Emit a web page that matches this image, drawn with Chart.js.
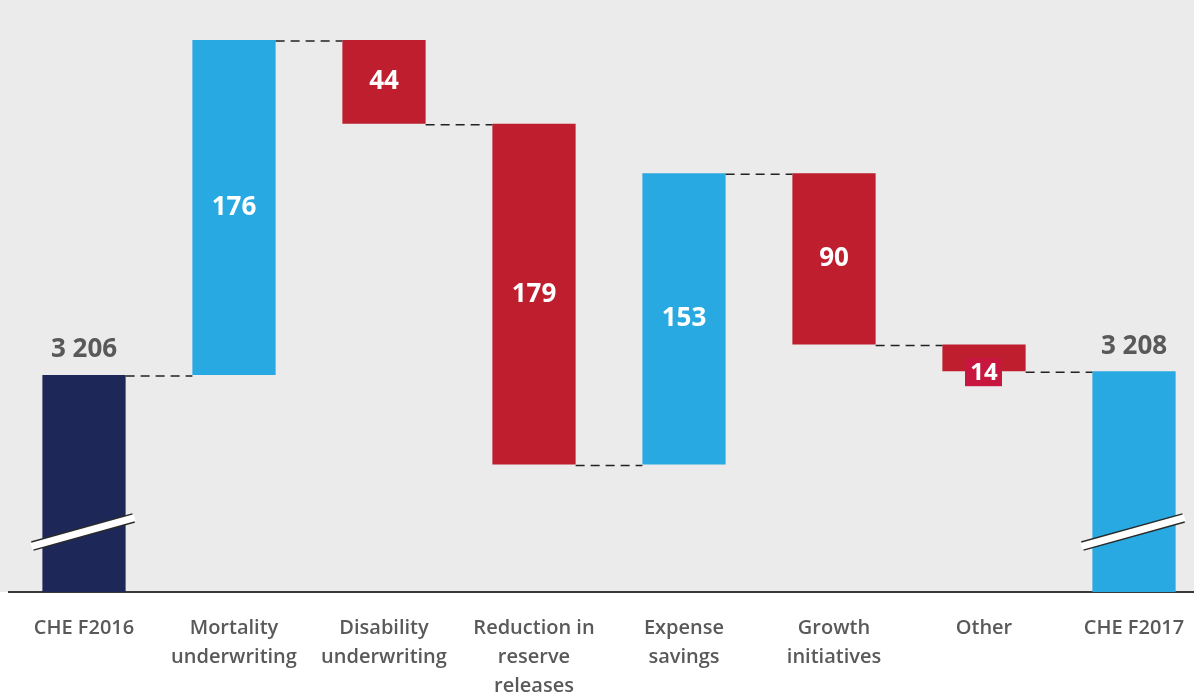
<!DOCTYPE html>
<html>
<head>
<meta charset="utf-8">
<script src="https://cdn.jsdelivr.net/npm/chart.js@4.4.1/dist/chart.umd.min.js"></script>
<style>
  html, body { margin: 0; padding: 0; background: #fff; overflow: hidden; }
  #wrap { width: 1209px; height: 715px; position: relative; }
</style>
</head>
<body>
<div id="wrap"><canvas id="chart"></canvas></div>
<script>
const categories = [
  ['CHE F2016'],
  ['Mortality', 'underwriting'],
  ['Disability', 'underwriting'],
  ['Reduction in', 'reserve', 'releases'],
  ['Expense', 'savings'],
  ['Growth', 'initiatives'],
  ['Other'],
  ['CHE F2017']
];
const startTotal = 3206;
const changes = [176, -44, -179, 153, -90, -14];
const endTotal = 3208;
const totalLabels = ['3 206', '3 208'];

const navy = '#1e2858';
const blue = '#29a9e1';
const red = '#be1e2d';

// build floating bars from the running total
let levels = [startTotal];
let barData = [startTotal];
let colors = [navy];
let running = startTotal;
changes.forEach(function(c) {
  barData.push([running, running + c]);
  running += c;
  levels.push(running);
  colors.push(c > 0 ? blue : red);
});
barData.push(endTotal);
levels.push(endTotal);
colors.push(blue);

const waterfallPlugin = {
  id: 'waterfall',
  beforeDraw(chart) {
    const ctx = chart.ctx, a = chart.chartArea;
    ctx.save();
    ctx.fillStyle = '#ebebeb';
    ctx.fillRect(0, 0, chart.width, a.bottom);
    ctx.restore();
  },
  afterDatasetsDraw(chart) {
    const ctx = chart.ctx, a = chart.chartArea;
    const y = chart.scales.y;
    const bars = chart.getDatasetMeta(0).data;
    ctx.save();
    // connectors
    ctx.strokeStyle = '#222';
    ctx.lineWidth = 1.6;
    ctx.setLineDash([9, 6]);
    for (let i = 0; i < bars.length - 1; i++) {
      const py = y.getPixelForValue(levels[i]) + 1;
      ctx.beginPath();
      ctx.moveTo(bars[i].x + bars[i].width / 2, py);
      ctx.lineTo(bars[i + 1].x - bars[i + 1].width / 2, py);
      ctx.stroke();
    }
    ctx.setLineDash([]);
    // axis break marks on the totals
    [0, bars.length - 1].forEach(function(i) {
      const b = bars[i];
      const cy = a.bottom - 60;
      const x1 = b.x - b.width / 2 - 10, x2 = b.x + b.width / 2 + 8;
      ctx.lineCap = 'butt';
      ctx.strokeStyle = '#2a2a2a';
      ctx.lineWidth = 10;
      ctx.beginPath(); ctx.moveTo(x1, cy + 14); ctx.lineTo(x2, cy - 14); ctx.stroke();
      ctx.strokeStyle = '#ffffff';
      ctx.lineWidth = 7;
      ctx.beginPath(); ctx.moveTo(x1 - 1, cy + 14.3); ctx.lineTo(x2 + 1, cy - 14.3); ctx.stroke();
    });
    // labels
    ctx.textAlign = 'center';
    ctx.textBaseline = 'middle';
    ctx.font = 'bold 26px "Open Sans", sans-serif';
    bars.forEach(function(b, i) {
      if (i === 0 || i === bars.length - 1) {
        ctx.fillStyle = '#595959';
        ctx.fillText(totalLabels[i === 0 ? 0 : 1], b.x, b.y - 25);
        return;
      }
      const val = String(Math.abs(changes[i - 1]));
      const top = Math.min(b.y, b.base), bot = Math.max(b.y, b.base);
      if (bot - top < 40) {
        ctx.fillStyle = '#c8173f';
        ctx.fillRect(b.x - 19, bot - 13, 37, 28);
        ctx.fillStyle = '#fff';
        ctx.font = 'bold 24px "Open Sans", sans-serif';
        ctx.fillText(val, b.x, bot + 2);
        ctx.font = 'bold 26px "Open Sans", sans-serif';
      } else {
        ctx.fillStyle = '#fff';
        ctx.fillText(val, b.x, (top + bot) / 2);
      }
    });
    ctx.restore();
  }
};

new Chart(document.getElementById('chart'), {
  type: 'bar',
  data: {
    labels: categories,
    datasets: [{
      data: barData,
      backgroundColor: colors,
      borderWidth: 0,
      categoryPercentage: 1,
      barPercentage: 0.555
    }]
  },
  options: {
    responsive: true,
    maintainAspectRatio: false,
    animation: false,
    layout: { padding: { left: 9, right: 0, top: 0, bottom: 0 } },
    plugins: { legend: { display: false }, tooltip: { enabled: false } },
    scales: {
      x: {
        grid: { display: false },
        border: { display: true, color: '#3a3a3a', width: 2 },
        ticks: {
          color: '#595959',
          padding: 14,
          maxRotation: 0,
          autoSkip: false,
          font: { family: '"Open Sans", sans-serif', size: 20, weight: '600', lineHeight: 1.45 }
        }
      },
      y: {
        display: false,
        min: 3092,
        max: 3403
      }
    }
  },
  plugins: [waterfallPlugin]
});
</script>
</body>
</html>
